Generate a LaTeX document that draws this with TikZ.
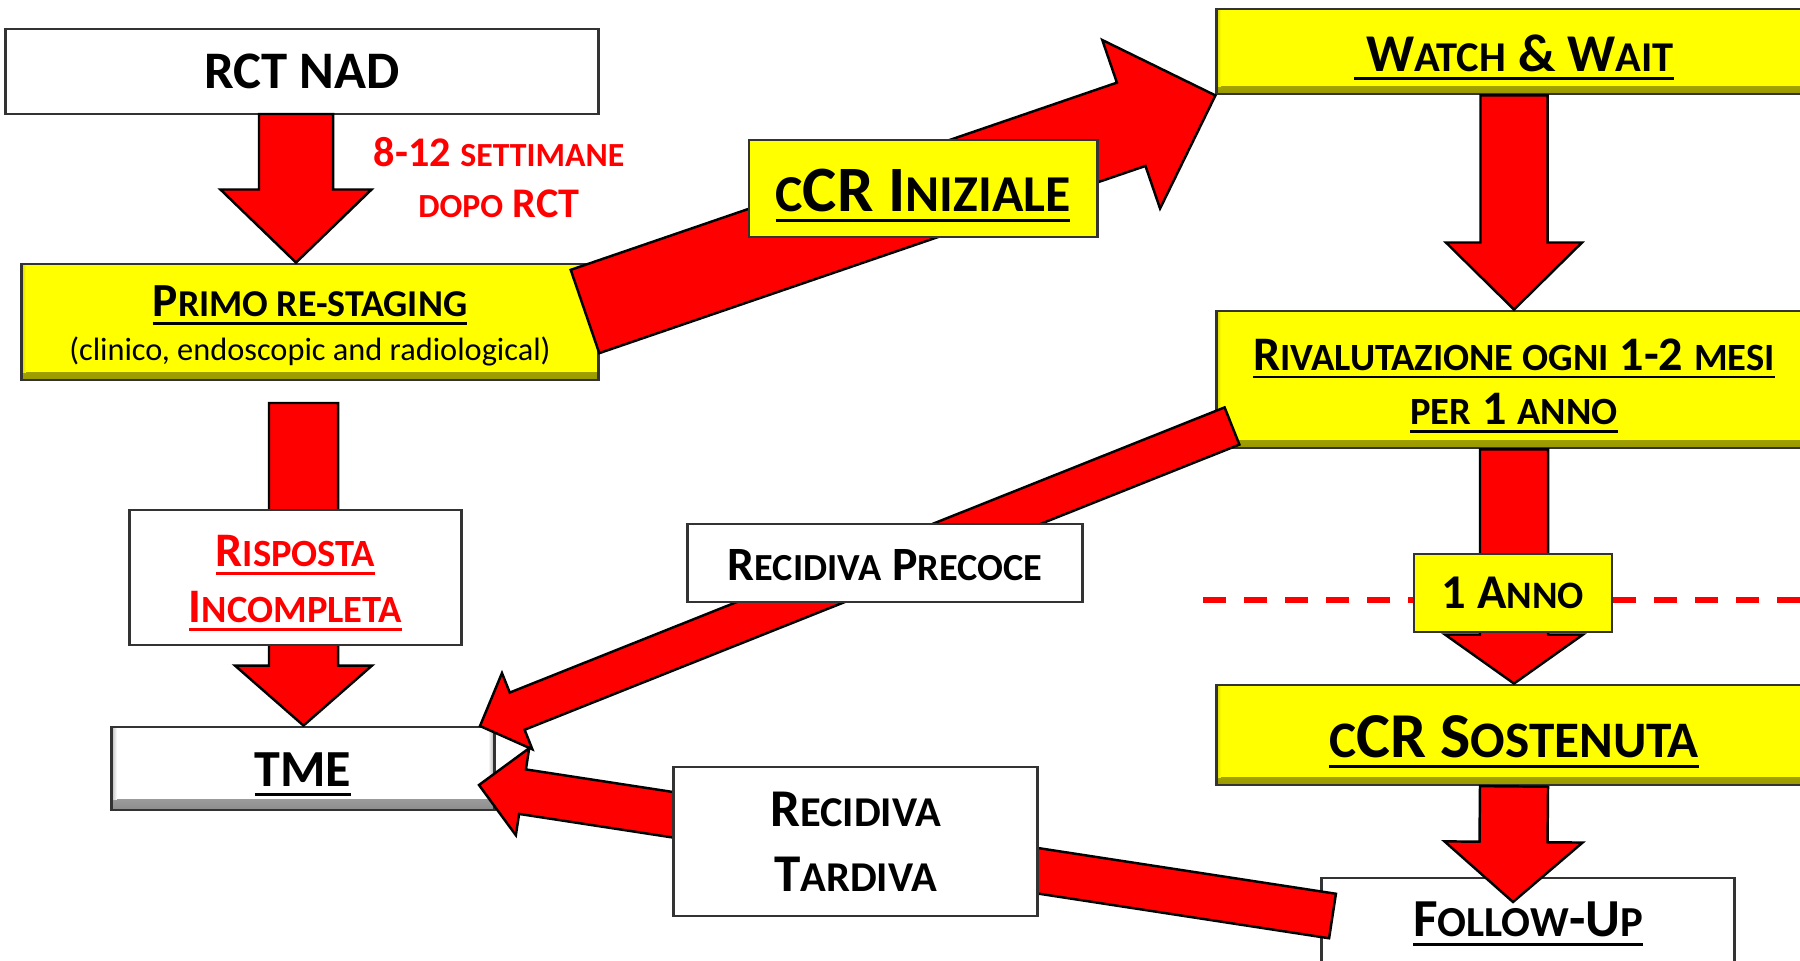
\documentclass[tikz,border=0pt]{standalone}
\usepackage{fontspec}
\setmainfont{Carlito}
\usepackage{tikz}
\usetikzlibrary{calc}

\definecolor{pptred}{RGB}{255,0,0}
\definecolor{pptyellow}{RGB}{255,255,0}

\makeatletter
\newcommand\smc[1]{{\fontsize{\the\dimexpr0.8\dimexpr\f@size pt\relax\relax}{\f@baselineskip}\selectfont #1}}
\makeatother
\newcommand\fs[2]{\fontsize{#1}{#2}\selectfont}
\newcommand\ul[1]{\leavevmode\setbox0\hbox{#1}\rlap{\rule[-0.17em]{\wd0}{0.055em}}\box0}
\newcommand\dropby[2]{\raisebox{-#1}[\height][\depth]{#2}}
\newcommand\lines[1]{\begin{tabular}{@{}c@{}}#1\end{tabular}}

% block arrow: tail, tip, shaft half width, head half width, head length
\newcommand\barrow[5]{%
  \draw[bigarrow] ($(#1)!#3!90:(#2)$) -- ($(#2)!#5!(#1)!#3!-90:(#1)$) -- ($(#2)!#5!(#1)!#4!-90:(#1)$)
    -- (#2) -- ($(#2)!#5!(#1)!#4!90:(#1)$) -- ($(#2)!#5!(#1)!#3!90:(#1)$) -- ($(#1)!#3!-90:(#2)$) -- cycle;}

\begin{document}
\begin{tikzpicture}[x=0.01cm,y=-0.01cm,
  box/.style={draw=black!80,line width=0.8pt,fill=white,align=center,inner sep=0pt,font=\bfseries},
  yflat/.style={box,fill=pptyellow},
  ybox/.style={box,fill=pptyellow,path picture={
    \shade[top color=pptyellow,bottom color=pptyellow!60!black]
      ([yshift=0.08cm]path picture bounding box.south west) rectangle (path picture bounding box.south east);
    \shade[left color=pptyellow!85!black,right color=pptyellow]
      (path picture bounding box.north west) rectangle ([xshift=0.04cm,yshift=0.08cm]path picture bounding box.south west);}},
  gbox/.style={box,path picture={
    \shade[top color=white,bottom color=black!45]
      ([yshift=0.11cm]path picture bounding box.south west) rectangle (path picture bounding box.south east);
    \shade[left color=black!25,right color=white]
      (path picture bounding box.north west) rectangle ([xshift=0.05cm,yshift=0.11cm]path picture bounding box.south west);
    \shade[left color=white,right color=black!30]
      ([xshift=-0.06cm]path picture bounding box.north east) rectangle ([yshift=0.11cm]path picture bounding box.south east);}},
  bigarrow/.style={fill=pptred,draw=black,line width=0.7pt},
  note/.style={align=center,text=pptred,inner sep=0pt}]

\clip (0,0) rectangle (1800,961);

\node[box,minimum width=5.92cm,minimum height=0.85cm,font=\bfseries\fs{15}{17}] (rct) at (302,71.5) {RCT NAD};
\node[ybox,minimum width=5.76cm,minimum height=1.16cm,font=\bfseries\fs{13.5}{13.5}] (primo) at (310,322)
  {\dropby{0.07cm}{\lines{\ul{P\smc{RIMO RE-STAGING}}\\[-1.2pt]{\mdseries\fs{9.2}{12.5}(clinico, endoscopic and radiological)}}}};
\node[gbox,minimum width=3.82cm,minimum height=0.83cm,font=\bfseries\fs{14.8}{16}] (tme) at (303,768.5)
  {\dropby{0.06cm}{\ul{TME}}};
\node[ybox,minimum width=5.94cm,minimum height=0.85cm,font=\bfseries\fs{15.1}{17}] (ww) at (1514,51.5)
  {\dropby{0.06cm}{\ul{\ W\smc{ATCH} \& W\smc{AIT}}}};
\node[ybox,minimum width=5.94cm,minimum height=1.37cm,font=\bfseries\fs{13.7}{15.6}] (riv) at (1514,379.5)
  {\dropby{0.07cm}{\lines{\ul{R\smc{IVALUTAZIONE OGNI} 1-2 \smc{MESI}}\\\ul{\smc{PER} 1 \smc{ANNO}}}}};
\node[ybox,minimum width=5.94cm,minimum height=1cm,font=\bfseries\fs{18.2}{19}] (ccrs) at (1514,735)
  {\dropby{0.07cm}{\ul{\smc{C}CR S\smc{OSTENUTA}}}};
\node[box,minimum width=4.12cm,minimum height=0.88cm,font=\bfseries\fs{15.2}{17}] (fu) at (1528,922)
  {\dropby{0.02cm}{\ul{F\smc{OLLOW}-U\smc{P}}}};

\coordinate (dash-l) at (1203,600);
\coordinate (dash-r) at (1800,600);
\draw[pptred,line width=1.6pt,dash pattern=on 0.23cm off 0.18cm] (dash-l) -- (dash-r);

\coordinate (rct-out) at (296,114);
\coordinate (primo-out) at (303.5,403);
\coordinate (primo-ccr) at (585,311.5);
\coordinate (fu-in) at (1513,902);
\coordinate (riv-out) at (1232,426);
\coordinate (tme-in1) at (480,726);
\coordinate (fu-out) at (1332.5,916);
\coordinate (tme-in2) at (479,785);

\barrow{rct-out}{primo.north -| rct-out}{0.37cm}{0.755cm}{0.73cm}
\barrow{primo-out}{tme.north -| primo-out}{0.345cm}{0.685cm}{0.6cm}
\barrow{primo-ccr}{ww.south west}{0.44cm}{0.89cm}{0.89cm}
\barrow{ww.south}{riv.north}{0.335cm}{0.68cm}{0.67cm}
\barrow{riv.south}{ccrs.north}{0.34cm}{0.69cm}{0.49cm}
\barrow{ccrs.south}{fu-in}{0.34cm}{0.69cm}{0.6cm}
\barrow{riv-out}{tme-in1}{0.2cm}{0.41cm}{0.4cm}
\barrow{fu-out}{tme-in2}{0.225cm}{0.44cm}{0.44cm}

\node[note,font=\bfseries\fs{12}{14.5}] (weeks) at (499,178) {8-12 \smc{SETTIMANE}\\\smc{DOPO} RCT};
\node[box,minimum width=3.31cm,minimum height=1.35cm,text=pptred,font=\bfseries\fs{13.7}{16}] (risp) at (295.5,577.5)
  {\dropby{0.06cm}{\lines{\ul{R\smc{ISPOSTA}}\\\ul{I\smc{NCOMPLETA}}}}};
\node[yflat,minimum width=3.48cm,minimum height=0.97cm,font=\bfseries\fs{18.4}{20}] (ccri) at (923,188.5)
  {\dropby{0.07cm}{\ul{\smc{C}CR I\smc{NIZIALE}}}};
\node[box,minimum width=3.94cm,minimum height=0.78cm,font=\bfseries\fs{13.6}{16}] (prec) at (885,563)
  {\dropby{0.02cm}{R\smc{ECIDIVA} P\smc{RECOCE}}};
\node[box,minimum width=3.63cm,minimum height=1.49cm,font=\bfseries\fs{15.1}{18.5}] (tard) at (855.5,841.5)
  {R\smc{ECIDIVA}\\T\smc{ARDIVA}};
\node[yflat,minimum width=1.98cm,minimum height=0.78cm,font=\bfseries\fs{13.8}{16}] (anno) at (1513,593)
  {1 A\smc{NNO}};

\end{tikzpicture}
\end{document}
